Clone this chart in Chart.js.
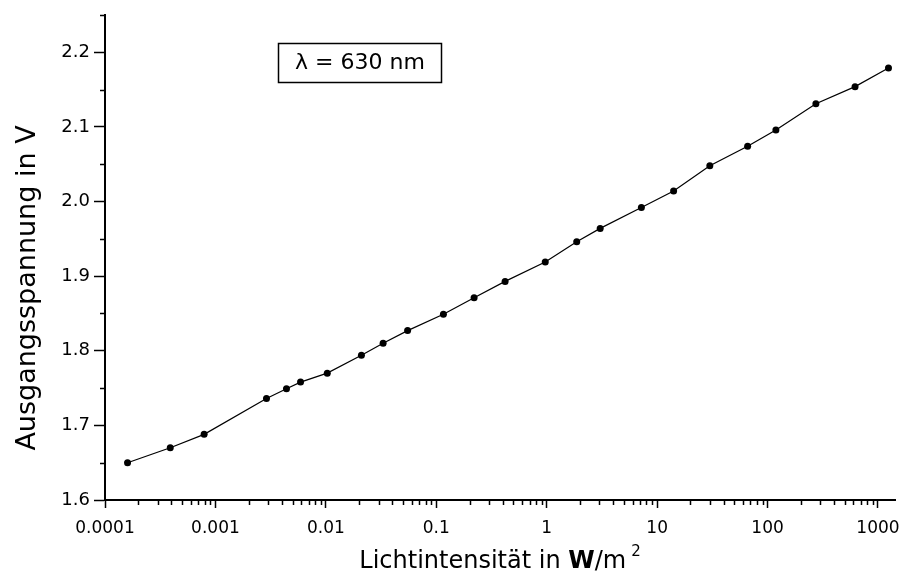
<!DOCTYPE html>
<html>
<head>
<meta charset="utf-8">
<title>Ausgangsspannung</title>
<script src="https://cdn.jsdelivr.net/npm/chart.js@4.4.1/dist/chart.umd.min.js"></script>
<style>
  html, body { margin: 0; padding: 0; background: #fff; }
  canvas { display: block; }
</style>
</head>
<body>
<canvas id="chart" width="902" height="573"></canvas>
<script>
// light intensity in W/m^2 and output voltage in V
const intensity = [0.00016, 0.00039, 0.00079, 0.0029, 0.0044, 0.0059, 0.0103, 0.021,
  0.033, 0.055, 0.116, 0.22, 0.42, 0.97, 1.87, 3.05, 7.2, 14.1, 30, 66, 119, 274, 620, 1245];
const voltage = [1.650, 1.670, 1.688, 1.736, 1.749, 1.758, 1.770, 1.794, 1.810, 1.827, 1.849,
  1.871, 1.893, 1.919, 1.946, 1.964, 1.992, 2.014, 2.048, 2.074, 2.096, 2.131, 2.154, 2.179];

const xTickValues = [0.0001, 0.001, 0.01, 0.1, 1, 10, 100, 1000];
const xTickLabels = ["0.0001", "0.001", "0.01", "0.1", "1", "10", "100", "1000"];
const yTickValues = [1.6, 1.7, 1.8, 1.9, 2.0, 2.1, 2.2];
const yMinorValues = [1.65, 1.75, 1.85, 1.95, 2.05, 2.15, 2.25];

const FONT = "DejaVu Sans";
Chart.defaults.font.family = FONT;
Chart.defaults.color = "#000";

// short tick marks between the labelled ones
const minorTicks = {
  id: "minorTicks",
  afterDraw(chart) {
    const { ctx, scales: { x, y } } = chart;
    ctx.save();
    ctx.strokeStyle = "#000";
    ctx.lineWidth = 1.5;
    ctx.beginPath();
    for (let d = 0; d < xTickValues.length; d++) {
      for (let m = 2; m <= 9; m++) {
        const v = xTickValues[d] * m;
        if (v > x.max) continue;
        const px = Math.round(x.getPixelForValue(v)) + 0.5;
        ctx.moveTo(px, y.bottom);
        ctx.lineTo(px, y.bottom + 5);
      }
    }
    yMinorValues.forEach(v => {
      const py = Math.round(y.getPixelForValue(v)) + 0.5;
      ctx.moveTo(x.left - 5, py);
      ctx.lineTo(x.left + 1, py);
    });
    ctx.stroke();
    ctx.restore();
  }
};

// axis titles and the wavelength box
const labels = {
  id: "labels",
  afterDraw(chart) {
    const { ctx, chartArea } = chart;
    ctx.save();
    ctx.fillStyle = "#000";

    // y title
    ctx.save();
    ctx.translate(35, 288);
    ctx.rotate(-Math.PI / 2);
    ctx.font = "27px '" + FONT + "'";
    ctx.textAlign = "center";
    ctx.textBaseline = "alphabetic";
    ctx.fillText("Ausgangsspannung in V", 0, 0);
    ctx.restore();

    // x title with bold W and superscript 2
    const parts = [
      { t: "Lichtintensität in ", f: "24px '" + FONT + "'" },
      { t: "W", f: "bold 24px '" + FONT + "'" },
      { t: "/m", f: "24px '" + FONT + "'" }
    ];
    const supFont = "15px '" + FONT + "'";
    let total = 0;
    parts.forEach(p => { ctx.font = p.f; p.w = ctx.measureText(p.t).width; total += p.w; });
    ctx.font = supFont;
    const supW = ctx.measureText("2").width;
    total += 5 + supW;
    let cx = (chartArea.left + chartArea.right) / 2 - total / 2;
    ctx.textAlign = "left";
    ctx.textBaseline = "alphabetic";
    parts.forEach(p => { ctx.font = p.f; ctx.fillText(p.t, cx, 568); cx += p.w; });
    ctx.font = supFont;
    ctx.fillText("2", cx + 5, 556);

    // wavelength box
    ctx.lineWidth = 1.5;
    ctx.strokeStyle = "#000";
    ctx.strokeRect(278.5, 43.5, 163, 39);
    ctx.font = "22px '" + FONT + "'";
    ctx.textAlign = "center";
    ctx.textBaseline = "middle";
    ctx.fillText("\u03bb = 630 nm", 360, 63);
    ctx.restore();
  }
};

new Chart(document.getElementById("chart"), {
  type: "line",
  data: {
    datasets: [{
      data: intensity.map((v, i) => ({ x: v, y: voltage[i] })),
      borderColor: "#000",
      borderWidth: 1.2,
      backgroundColor: "#000",
      pointRadius: 3.5,
      pointBorderWidth: 0,
      pointBackgroundColor: "#000",
      tension: 0
    }]
  },
  options: {
    responsive: false,
    animation: false,
    layout: { padding: { top: 15, right: 7, left: 0, bottom: 0 } },
    plugins: { legend: { display: false }, tooltip: { enabled: false } },
    scales: {
      x: {
        type: "logarithmic",
        min: 0.0001,
        max: 1426,
        afterBuildTicks: s => { s.ticks = xTickValues.map(v => ({ value: v })); },
        afterFit: s => { s.height = 73; s.paddingLeft = 0; s.paddingRight = 0; },
        ticks: {
          font: { size: 17 },
          padding: 10,
          maxRotation: 0,
          autoSkip: false,
          callback: (v, i) => xTickLabels[i]
        },
        grid: { drawOnChartArea: false, tickLength: 8, tickWidth: 1.5, tickColor: "#000" },
        border: { color: "#000", width: 2 }
      },
      y: {
        min: 1.6,
        max: 2.25,
        afterBuildTicks: s => { s.ticks = yTickValues.map(v => ({ value: v })); },
        afterFit: s => { s.width = 105; s.paddingTop = 0; s.paddingBottom = 0; },
        ticks: {
          font: { size: 18 },
          padding: 4,
          callback: v => v.toFixed(1)
        },
        grid: { drawOnChartArea: false, tickLength: 11, tickWidth: 1.5, tickColor: "#000" },
        border: { color: "#000", width: 2 }
      }
    }
  },
  plugins: [minorTicks, labels]
});
</script>
</body>
</html>
